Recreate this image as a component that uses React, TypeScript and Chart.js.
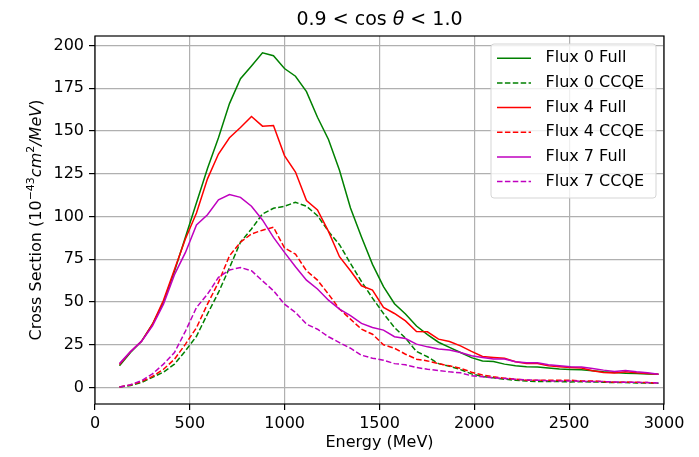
import React, { useEffect, useRef } from 'react';
import { Chart, registerables } from 'chart.js';

Chart.register(...registerables);

// Energy bin centres (MeV)
const energies = [129, 187, 245, 303, 361, 419, 477, 535, 593, 651, 709, 767, 825, 883, 941, 999, 1057, 1115, 1173, 1231, 1289, 1347, 1405, 1463, 1521, 1579, 1637, 1695, 1753, 1811, 1869, 1927, 1985, 2043, 2101, 2159, 2217, 2275, 2333, 2391, 2449, 2507, 2565, 2623, 2681, 2739, 2797, 2855, 2913, 2971];

const flux0Full = [12.7, 20.5, 27, 37, 50, 68, 88, 108, 128, 146, 166, 180.5, 188, 195.7, 194, 186.5, 182, 173, 158, 145, 127, 105, 88, 72, 59, 49, 43, 36, 31, 26.5, 23.5, 20.5, 17.5, 15.5, 15.3, 13.7, 12.7, 12.2, 12, 11.4, 10.8, 10.6, 10.4, 9.8, 9.2, 8.8, 8.4, 8.2, 8, 7.8];
const flux0CCQE = [0.3, 1.2, 3, 6, 9, 13.7, 21.5, 30, 43, 55.6, 70, 85, 92.7, 101.5, 104.8, 106, 108.3, 106, 100.5, 91.3, 83.5, 72.6, 62, 52.3, 43.3, 35.1, 28.9, 21.1, 18, 14, 12.5, 10.5, 8, 6.5, 5.7, 4.9, 4.3, 3.9, 3.5, 3.5, 3.5, 3.3, 3.5, 3.3, 3.1, 2.9, 2.9, 2.7, 2.7, 2.5];
const flux4Full = [13.5, 21, 27, 37, 51, 69, 87, 102, 122, 136.5, 146, 152, 158.5, 152.8, 153.2, 135.6, 126, 109.3, 103.8, 91.3, 76.5, 68.3, 59.5, 57, 46.8, 43.3, 39, 32.8, 32.6, 28.3, 26.9, 24.4, 21.2, 18.2, 17.6, 17.1, 15.1, 14.1, 14.1, 12.7, 12.2, 11.8, 11.4, 9.8, 8.8, 8.5, 9.2, 8.6, 8.2, 7.8];
const flux4CCQE = [0.3, 1.5, 3.5, 6.5, 10.7, 16.6, 25.4, 35, 48.8, 61.5, 77, 85, 89.8, 92, 93.7, 81.6, 78, 68.3, 62.8, 54.6, 45.9, 40, 34.1, 31.2, 25, 23, 19.5, 16.6, 15.6, 14, 12.7, 11.3, 9, 7.3, 6.3, 5.5, 4.9, 4.3, 4.3, 4.3, 4.3, 4.3, 3.9, 3.9, 3.5, 3.1, 3.3, 3.1, 2.9, 2.7];
const flux7Full = [14, 21, 27, 36, 48.8, 66, 79, 95, 101, 109.7, 112.8, 111.2, 106, 98, 87.8, 79, 70.6, 62.8, 57.6, 51.1, 45.9, 42, 37.5, 35.1, 33.6, 29.7, 28.7, 25.4, 23.8, 22.6, 21.9, 20.5, 18.6, 17.6, 16.7, 16.7, 15.1, 14.5, 14.5, 13.3, 12.7, 12.2, 12, 11.2, 10.2, 9.4, 10, 9.2, 8.6, 7.8];
const flux7CCQE = [0.3, 1.7, 4, 8, 13.7, 20.5, 33, 46.8, 54.6, 64.4, 68.7, 70.2, 68.3, 62.4, 56.6, 48.8, 43.9, 37.1, 34.1, 29.7, 26.3, 23, 18.9, 17.2, 16, 14, 13.3, 11.7, 10.7, 10, 9.2, 8.6, 6.9, 6.3, 5.7, 5.3, 4.9, 4.5, 4.3, 3.9, 3.9, 3.9, 3.7, 3.5, 3.5, 3.3, 3.1, 3.1, 2.9, 2.7];

const seriesLabels = ['Flux 0 Full', 'Flux 0 CCQE', 'Flux 4 Full', 'Flux 4 CCQE', 'Flux 7 Full', 'Flux 7 CCQE'];
const seriesValues = [flux0Full, flux0CCQE, flux4Full, flux4CCQE, flux7Full, flux7CCQE];
const seriesColors = ['#008000', '#008000', '#ff0000', '#ff0000', '#bf00bf', '#bf00bf'];
const seriesDashed = [false, true, false, true, false, true];

const X_MIN = 0;
const X_MAX = 3000;
const X_STEP = 500;
const Y_MIN = -9.6;
const Y_MAX = 205.5;
const Y_STEP = 25;

const FONT = '"DejaVu Sans", sans-serif';
const DASH = [5.5, 2.4];

type Seg = { t: string; italic?: boolean; sup?: boolean };

function drawSegs(ctx: CanvasRenderingContext2D, segs: Seg[], cx: number, baseline: number, size: number) {
  const fonts = segs.map((s) => `${s.italic ? 'italic ' : ''}${s.sup ? Math.round(size * 0.7) : size}px ${FONT}`);
  const widths = segs.map((s, i) => {
    ctx.font = fonts[i];
    return ctx.measureText(s.t).width;
  });
  const total = widths.reduce((a, b) => a + b, 0);
  let x = cx - total / 2;
  ctx.textAlign = 'left';
  ctx.textBaseline = 'alphabetic';
  segs.forEach((s, i) => {
    ctx.font = fonts[i];
    ctx.fillText(s.t, x, s.sup ? baseline - size * 0.42 : baseline);
    x += widths[i];
  });
}

const overlayPlugin = {
  id: 'overlay',
  afterDatasetsDraw(chart: any) {
    const { ctx, chartArea } = chart;
    const { left, right, top, bottom } = chartArea;
    ctx.save();
    ctx.strokeStyle = '#000';
    ctx.lineWidth = 1.2;
    ctx.setLineDash([]);
    ctx.strokeRect(left, top, right - left, bottom - top);
    ctx.restore();
  },
  afterDraw(chart: any) {
    const { ctx, chartArea } = chart;
    const { left, right, top, bottom } = chartArea;
    const cx = (left + right) / 2;
    const cy = (top + bottom) / 2;
    ctx.save();
    ctx.fillStyle = '#000';

    // Title
    drawSegs(ctx, [{ t: '0.9 < cos ' }, { t: 'θ', italic: true }, { t: ' < 1.0' }], cx, 25, 19);

    // X axis label
    ctx.font = `16px ${FONT}`;
    ctx.textAlign = 'center';
    ctx.textBaseline = 'alphabetic';
    ctx.fillText('Energy (MeV)', cx, 447);

    // Y axis label
    ctx.save();
    ctx.translate(40.5, cy);
    ctx.rotate(-Math.PI / 2);
    drawSegs(
      ctx,
      [
        { t: 'Cross Section (10' },
        { t: '−43', sup: true },
        { t: 'cm', italic: true },
        { t: '2', sup: true },
        { t: '/MeV', italic: true },
        { t: ')' },
      ],
      0,
      0,
      16
    );
    ctx.restore();

    // Legend
    const bx = 491, by = 44, bw = 165, bh = 154, r = 3;
    ctx.beginPath();
    ctx.moveTo(bx + r, by);
    ctx.lineTo(bx + bw - r, by);
    ctx.quadraticCurveTo(bx + bw, by, bx + bw, by + r);
    ctx.lineTo(bx + bw, by + bh - r);
    ctx.quadraticCurveTo(bx + bw, by + bh, bx + bw - r, by + bh);
    ctx.lineTo(bx + r, by + bh);
    ctx.quadraticCurveTo(bx, by + bh, bx, by + bh - r);
    ctx.lineTo(bx, by + r);
    ctx.quadraticCurveTo(bx, by, bx + r, by);
    ctx.closePath();
    ctx.fillStyle = 'rgba(255,255,255,0.8)';
    ctx.fill();
    ctx.strokeStyle = '#d5d5d5';
    ctx.lineWidth = 1;
    ctx.stroke();

    chart.data.datasets.forEach((ds: any, i: number) => {
      const ry = 58.3 + i * 24.65;
      ctx.beginPath();
      ctx.setLineDash(ds.borderDash || []);
      ctx.strokeStyle = ds.borderColor;
      ctx.lineWidth = ds.borderWidth;
      ctx.moveTo(497, ry);
      ctx.lineTo(531, ry);
      ctx.stroke();
      ctx.setLineDash([]);
      ctx.fillStyle = '#000';
      ctx.font = `16px ${FONT}`;
      ctx.textAlign = 'left';
      ctx.textBaseline = 'middle';
      ctx.fillText(ds.label, 545.5, ry);
    });
    ctx.restore();
  },
};

export default function App() {
  const canvasRef = useRef<HTMLCanvasElement | null>(null);

  useEffect(() => {
    const canvas = canvasRef.current;
    if (!canvas) return;
    const datasets = seriesLabels.map((label, i) => ({
      label,
      data: energies.map((e, j) => ({ x: e, y: seriesValues[i][j] })),
      borderColor: seriesColors[i],
      backgroundColor: seriesColors[i],
      borderWidth: 1.5,
      borderDash: seriesDashed[i] ? DASH : [],
      pointRadius: 0,
      fill: false,
      tension: 0,
      order: seriesLabels.length - i,
    }));

    const tickFont = { family: FONT, size: 16 };
    const grid = { color: '#b0b0b0', lineWidth: 1.2, tickColor: '#000', tickLength: 6, tickWidth: 1.2 };

    const chart = new Chart(canvas, {
      type: 'line',
      data: { datasets },
      options: {
        responsive: false,
        animation: false,
        devicePixelRatio: 1,
        layout: { padding: { top: 36, right: 35, bottom: 0, left: 0 } },
        plugins: {
          legend: { display: false },
          title: { display: false },
          tooltip: { enabled: false },
        },
        scales: {
          x: {
            type: 'linear',
            min: X_MIN,
            max: X_MAX,
            afterFit: (s: any) => {
              s.height = 53;
            },
            ticks: {
              stepSize: X_STEP,
              font: tickFont,
              color: '#000',
              padding: 4,
              maxRotation: 0,
              includeBounds: false,
              callback: (v: any) => String(v),
            },
            grid,
            border: { display: false },
          },
          y: {
            type: 'linear',
            min: Y_MIN,
            max: Y_MAX,
            afterFit: (s: any) => {
              s.width = 95;
            },
            ticks: {
              stepSize: Y_STEP,
              font: tickFont,
              color: '#000',
              padding: 5,
              includeBounds: false,
              callback: (v: any) => String(v),
            },
            grid,
            border: { display: false },
          },
        },
      } as any,
      plugins: [overlayPlugin],
    });
    return () => chart.destroy();
  }, []);

  return (
    <div style={{ position: 'fixed', left: 0, top: 0, width: 699, height: 457, background: '#fff' }}>
      <canvas ref={canvasRef} width={699} height={457} style={{ width: 699, height: 457 }} />
    </div>
  );
}
